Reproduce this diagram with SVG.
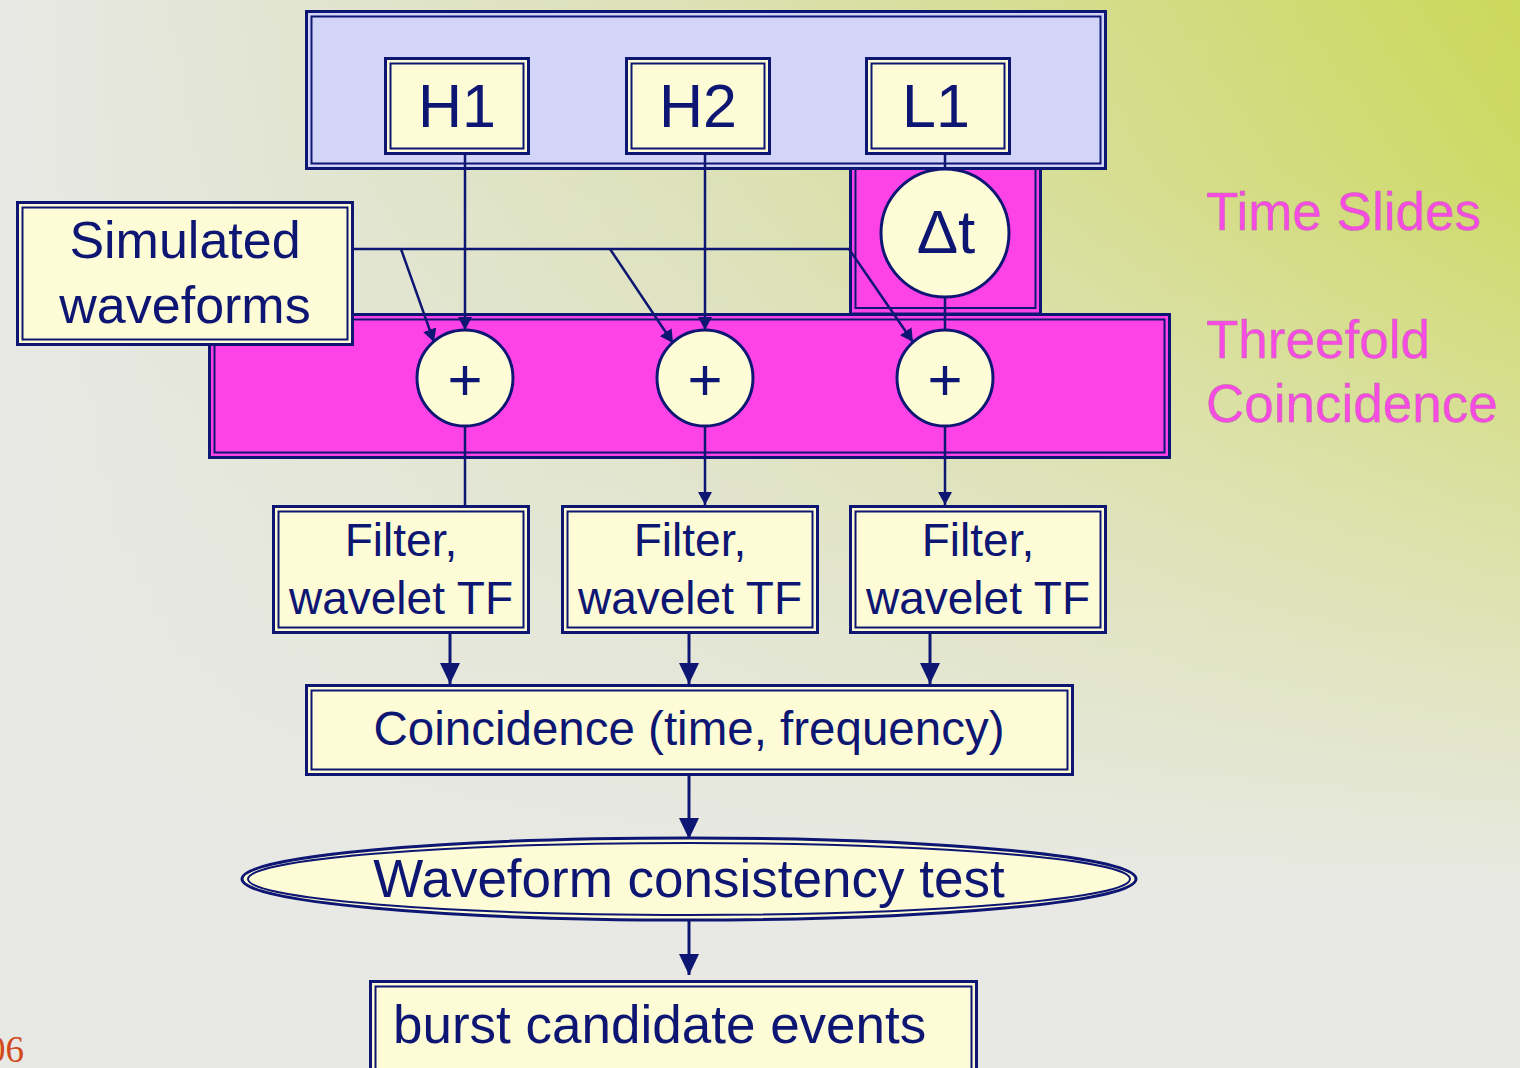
<svg xmlns="http://www.w3.org/2000/svg" width="1520" height="1068" viewBox="0 0 1520 1068">
<defs>
<linearGradient id="bgH" x1="0" y1="0" x2="1" y2="0">
<stop offset="0" stop-color="#e8e9e5"/>
<stop offset="0.1" stop-color="#e4e6da"/>
<stop offset="0.45" stop-color="#dce1b6"/>
<stop offset="0.75" stop-color="#d4dc86"/>
<stop offset="1" stop-color="#ccd85a"/>
</linearGradient>
<linearGradient id="bgV" x1="0" y1="0" x2="0" y2="1">
<stop offset="0" stop-color="#e8e9e5" stop-opacity="0"/>
<stop offset="0.2" stop-color="#e8e9e5" stop-opacity="0.1"/>
<stop offset="0.55" stop-color="#e8e9e5" stop-opacity="0.5"/>
<stop offset="1" stop-color="#e8e9e5" stop-opacity="1"/>
</linearGradient>
<marker id="as" viewBox="0 0 13 14" refX="13" refY="7" markerWidth="13" markerHeight="14" markerUnits="userSpaceOnUse" orient="auto">
<path d="M0,0 L13,7 L0,14 z" fill="#0e1673"/>
</marker>
<marker id="al" viewBox="0 0 21 20" refX="21" refY="10" markerWidth="21" markerHeight="20" markerUnits="userSpaceOnUse" orient="auto">
<path d="M0,0 L21,10 L0,20 z" fill="#0e1673"/>
</marker>
<style>
.ob{stroke:#0e1673;stroke-width:3}
.ib{fill:none;stroke:#0e1673;stroke-width:2}
.cream{fill:#fdfcd6}
.blue{fill:#d2d4f8}
.pink{fill:#fd42e8}
.t{font-family:"Liberation Sans",Arial,sans-serif;fill:#0e1673;text-anchor:middle}
.side{font-family:"Liberation Sans",Arial,sans-serif;fill:#f74be2;font-size:53px;stroke:#b07aa0;stroke-width:0.4}
.ln{fill:none;stroke:#0e1673;stroke-width:2.5}
.lnb{fill:none;stroke:#0e1673;stroke-width:3}
</style>
</defs>
<g id="background">
<rect x="0" y="0" width="1520" height="1068" fill="#e8e9e5"/>
<rect x="0" y="0" width="1520" height="900" fill="url(#bgH)"/>
<rect x="0" y="0" width="1520" height="900" fill="url(#bgV)"/>
<text x="-13" y="1062" font-family="Liberation Serif,serif" font-size="37" fill="#d24a1c">06</text>
</g>
<g id="timeslides-box">
<rect class="ob pink" x="850.5" y="160" width="190" height="154"/>
<rect class="ib" x="855.5" y="160" width="180" height="148"/>
</g>
<g id="detectors-box">
<rect class="ob blue" x="306.5" y="11.5" width="799" height="157"/>
<rect class="ib" x="311.5" y="16.5" width="789" height="147"/>
</g>
<g id="H1">
<rect class="ob cream" x="385.5" y="58.5" width="143" height="95"/>
<rect class="ib" x="390.5" y="63.5" width="133" height="85"/>
<text class="t" x="457" y="127" font-size="61">H1</text>
</g>
<g id="H2">
<rect class="ob cream" x="626.5" y="58.5" width="143" height="95"/>
<rect class="ib" x="631.5" y="63.5" width="133" height="85"/>
<text class="t" x="698" y="127" font-size="61">H2</text>
</g>
<g id="L1">
<rect class="ob cream" x="866.5" y="58.5" width="143" height="95"/>
<rect class="ib" x="871.5" y="63.5" width="133" height="85"/>
<text class="t" x="936" y="127" font-size="61">L1</text>
</g>
<g id="coincidence-box">
<rect class="ob pink" x="209.5" y="314.5" width="960" height="143"/>
<rect class="ib" x="214.5" y="319.5" width="950" height="133"/>
</g>
<g id="simulated">
<rect class="ob cream" x="17.5" y="202.5" width="335" height="142"/>
<rect class="ib" x="22.5" y="207.5" width="325" height="132"/>
<text class="t" x="185" y="258" font-size="52">Simulated</text>
<text class="t" x="185" y="323" font-size="52">waveforms</text>
</g>
<g id="delta-t">
<circle class="ob cream" cx="945" cy="233" r="64"/>
<text class="t" x="946" y="253" font-size="62">Δt</text>
</g>
<g id="plus1">
<circle class="ob cream" cx="465" cy="378" r="48"/>
<text class="t" x="465" y="400" font-size="60">+</text>
</g>
<g id="plus2">
<circle class="ob cream" cx="705" cy="378" r="48"/>
<text class="t" x="705" y="400" font-size="60">+</text>
</g>
<g id="plus3">
<circle class="ob cream" cx="945" cy="378" r="48"/>
<text class="t" x="945" y="400" font-size="60">+</text>
</g>
<g id="filter1">
<rect class="ob cream" x="273.5" y="506.5" width="255" height="126"/>
<rect class="ib" x="278.5" y="511.5" width="245" height="116"/>
<text class="t" x="401" y="556" font-size="46">Filter,</text>
<text class="t" x="401" y="614" font-size="46">wavelet TF</text>
</g>
<g id="filter2">
<rect class="ob cream" x="562.5" y="506.5" width="255" height="126"/>
<rect class="ib" x="567.5" y="511.5" width="245" height="116"/>
<text class="t" x="690" y="556" font-size="46">Filter,</text>
<text class="t" x="690" y="614" font-size="46">wavelet TF</text>
</g>
<g id="filter3">
<rect class="ob cream" x="850.5" y="506.5" width="255" height="126"/>
<rect class="ib" x="855.5" y="511.5" width="245" height="116"/>
<text class="t" x="978" y="556" font-size="46">Filter,</text>
<text class="t" x="978" y="614" font-size="46">wavelet TF</text>
</g>
<g id="coincidence">
<rect class="ob cream" x="306.5" y="685.5" width="766" height="89"/>
<rect class="ib" x="311.5" y="690.5" width="756" height="79"/>
<text class="t" x="689" y="745" font-size="47.5">Coincidence (time, frequency)</text>
</g>
<g id="consistency">
<ellipse class="ob cream" cx="689" cy="879" rx="447" ry="41"/>
<ellipse class="ib" cx="689" cy="879" rx="441" ry="36"/>
<text class="t" x="689" y="897" font-size="53">Waveform consistency test</text>
</g>
<g id="burst">
<rect class="ob cream" x="370.5" y="981.5" width="606" height="100"/>
<rect class="ib" x="375.5" y="986.5" width="596" height="100"/>
<text class="t" x="393" y="1043" font-size="53" style="text-anchor:start">burst candidate events</text>
</g>
<g id="labels">
<text class="side" x="1206" y="230">Time Slides</text>
<text class="side" x="1206" y="358">Threefold</text>
<text class="side" x="1206" y="422">Coincidence</text>
</g>
<g id="connectors">
<line class="ln" x1="465" y1="154" x2="465" y2="330" marker-end="url(#as)"/>
<line class="ln" x1="705" y1="154" x2="705" y2="330" marker-end="url(#as)"/>
<line class="ln" x1="945" y1="154" x2="945" y2="169"/>
<line class="ln" x1="945" y1="297" x2="945" y2="330"/>
<line class="ln" x1="353" y1="249" x2="849" y2="249"/>
<line class="ln" x1="401" y1="249" x2="434" y2="342" marker-end="url(#as)"/>
<line class="ln" x1="610" y1="249" x2="673" y2="343" marker-end="url(#as)"/>
<line class="ln" x1="849" y1="249" x2="913" y2="342" marker-end="url(#as)"/>
<line class="ln" x1="465" y1="426" x2="465" y2="505"/>
<line class="ln" x1="705" y1="426" x2="705" y2="505" marker-end="url(#as)"/>
<line class="ln" x1="945" y1="426" x2="945" y2="505" marker-end="url(#as)"/>
<line class="lnb" x1="450" y1="634" x2="450" y2="684" marker-end="url(#al)"/>
<line class="lnb" x1="689" y1="634" x2="689" y2="684" marker-end="url(#al)"/>
<line class="lnb" x1="930" y1="634" x2="930" y2="684" marker-end="url(#al)"/>
<line class="lnb" x1="689" y1="776" x2="689" y2="839" marker-end="url(#al)"/>
<line class="lnb" x1="689" y1="921" x2="689" y2="975" marker-end="url(#al)"/>
</g>
</svg>
